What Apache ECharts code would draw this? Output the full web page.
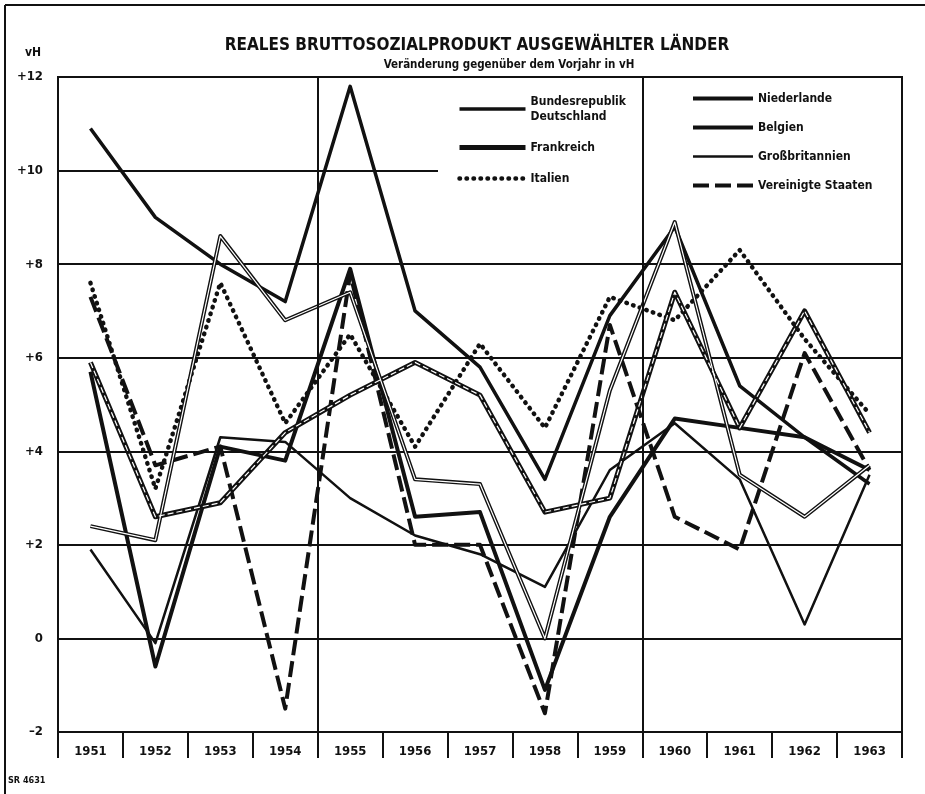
<!DOCTYPE html>
<html lang="de">
<head>
<meta charset="UTF-8">
<title>Reales Bruttosozialprodukt</title>
<script src="https://cdn.jsdelivr.net/npm/echarts@6/dist/echarts.min.js"></script>
<style>
  html, body { margin: 0; padding: 0; background: #fff; }
</style>
</head>
<body>
<div id="main" style="width:925px;height:794px;"></div>
<script type="text/javascript">
// Veränderung gegenüber dem Vorjahr in vH
var years = ['1951', '1952', '1953', '1954', '1955', '1956', '1957', '1958', '1959', '1960', '1961', '1962', '1963'];
var deutschland = [10.9, 9.0, 8.0, 7.2, 11.8, 7.0, 5.8, 3.4, 6.9, 8.8, 5.4, 4.3, 3.3];
var frankreich = [5.9, 2.6, 2.9, 4.4, 5.2, 5.9, 5.2, 2.7, 3.0, 7.4, 4.5, 7.0, 4.4];
var italien = [7.6, 3.2, 7.6, 4.6, 6.5, 4.1, 6.3, 4.5, 7.3, 6.8, 8.3, 6.4, 4.8];
var niederlande = [2.4, 2.1, 8.6, 6.8, 7.4, 3.4, 3.3, 0.0, 5.3, 8.9, 3.5, 2.6, 3.7];
var belgien = [5.7, -0.6, 4.1, 3.8, 7.9, 2.6, 2.7, -1.1, 2.6, 4.7, 4.5, 4.3, 3.6];
var grossbritannien = [1.9, -0.1, 4.3, 4.2, 3.0, 2.2, 1.8, 1.1, 3.6, 4.6, 3.4, 0.3, 3.5];
var usa = [7.3, 3.7, 4.1, -1.5, 7.8, 2.0, 2.0, -1.6, 6.7, 2.6, 1.9, 6.1, 3.6];
// vertical separators (category boundaries before 1955 and 1960)
var dividers = [4, 9];

var ink = '#111';
var font = "'DejaVu Sans Condensed', 'Liberation Sans Narrow', sans-serif";

function lineSeries(name, data, style, z) {
    return {
        name: name,
        type: 'line',
        data: data,
        symbol: 'none',
        z: z || 2,
        silent: true,
        lineStyle: Object.assign({ color: ink, join: 'round' }, style),
        itemStyle: { color: ink }
    };
}

var legendText = { fontFamily: font, fontWeight: 'bold', fontSize: 12, color: ink, lineHeight: 15 };

var myChart = echarts.init(document.getElementById('main'));
var option = {
    backgroundColor: '#fff',
    animation: false,
    title: [
        {
            text: 'REALES BRUTTOSOZIALPRODUKT AUSGEWÄHLTER LÄNDER',
            left: 472, top: 32, textAlign: 'center',
            textStyle: { fontFamily: font, fontWeight: 'bold', fontSize: 17, color: ink }
        },
        {
            text: 'Veränderung gegenüber dem Vorjahr in vH',
            left: 504, top: 54, textAlign: 'center',
            textStyle: { fontFamily: font, fontWeight: 'bold', fontSize: 11.5, color: ink }
        }
    ],
    grid: {
        left: 58, right: 23, top: 77, bottom: 62,
        show: true, borderColor: ink, borderWidth: 2, backgroundColor: 'transparent'
    },
    legend: [
        {
            data: ['Bundesrepublik\nDeutschland', 'Frankreich', 'Italien'],
            orient: 'vertical',
            left: 452, top: 89,
            itemWidth: 66, itemHeight: 12, itemGap: 16,
            z: 6,
            selectedMode: false,
            itemStyle: { opacity: 0 },
            lineStyle: { width: 'inherit' },
            textStyle: legendText
        },
        {
            data: ['Niederlande', 'Belgien', 'Großbritannien', 'Vereinigte Staaten'],
            orient: 'vertical',
            left: 686, top: 86,
            itemWidth: 60, itemHeight: 12, itemGap: 14,
            z: 6,
            selectedMode: false,
            itemStyle: { opacity: 0 },
            lineStyle: { width: 'inherit' },
            textStyle: legendText
        }
    ],
    xAxis: [
        {
            type: 'category',
            data: years,
            boundaryGap: true,
            axisLine: { show: true, onZero: false, lineStyle: { color: ink, width: 2 } },
            axisTick: { show: true, length: 26, lineStyle: { color: ink, width: 2 } },
            axisLabel: { interval: 0, margin: 13, fontFamily: font, fontWeight: 'bold', fontSize: 13, color: ink },
            splitLine: { show: false }
        },
        {
            type: 'value',
            min: 0, max: 13,
            show: false,
            splitLine: { show: false }
        }
    ],
    yAxis: {
        type: 'value',
        min: -2, max: 12, interval: 2,
        axisLine: { show: false },
        axisTick: { show: false },
        axisLabel: {
            margin: 15,
            fontFamily: font, fontWeight: 'bold', fontSize: 13, color: ink,
            formatter: function (v) { return v > 0 ? '+' + v : (v < 0 ? '–' + Math.abs(v) : '0'); }
        },
        splitLine: { show: true, lineStyle: { color: ink, width: 2 } }
    },
    graphic: [
        { type: 'rect', shape: { x: 438, y: 79, width: 463, height: 120 }, style: { fill: '#fff' }, z: 5, silent: true },
        { type: 'line', shape: { x1: 5, y1: 5, x2: 925, y2: 5 }, style: { stroke: ink, lineWidth: 2 }, silent: true },
        { type: 'line', shape: { x1: 5, y1: 5, x2: 5, y2: 794 }, style: { stroke: ink, lineWidth: 2 }, silent: true },
        { type: 'text', left: 25, top: 47, style: { text: 'vH', font: 'bold 12px ' + font, fill: ink } },
        { type: 'text', left: 8, top: 776, style: { text: 'SR 4631', font: 'bold 9px ' + font, fill: ink } }
    ],
    series: [
        {
            name: 'dividers',
            type: 'line',
            xAxisIndex: 1,
            data: [[0, -2], [13, -2]],
            symbol: 'none',
            silent: true,
            lineStyle: { opacity: 0 },
            markLine: {
                silent: true,
                symbol: 'none',
                label: { show: false },
                lineStyle: { color: ink, width: 2, type: 'solid' },
                data: dividers.map(function (d) { return { xAxis: d }; })
            },
            z: 1
        },
        lineSeries('Bundesrepublik\nDeutschland', deutschland, { width: 3.5 }),
        lineSeries('Frankreich', frankreich, { width: 5 }),
        lineSeries('frankreich-innen', frankreich, { width: 1.2, color: '#fff', type: [6, 3] }, 3),
        lineSeries('Italien', italien, { width: 4.5, type: [0.5, 6.5], cap: 'round' }),
        lineSeries('Niederlande', niederlande, { width: 4 }),
        lineSeries('niederlande-innen', niederlande, { width: 1.2, color: '#fff' }, 3),
        lineSeries('Belgien', belgien, { width: 4 }),
        lineSeries('Großbritannien', grossbritannien, { width: 2.5 }),
        lineSeries('Vereinigte Staaten', usa, { width: 4, type: [16, 6] })
    ]
};
myChart.setOption(option);
</script>
</body>
</html>
